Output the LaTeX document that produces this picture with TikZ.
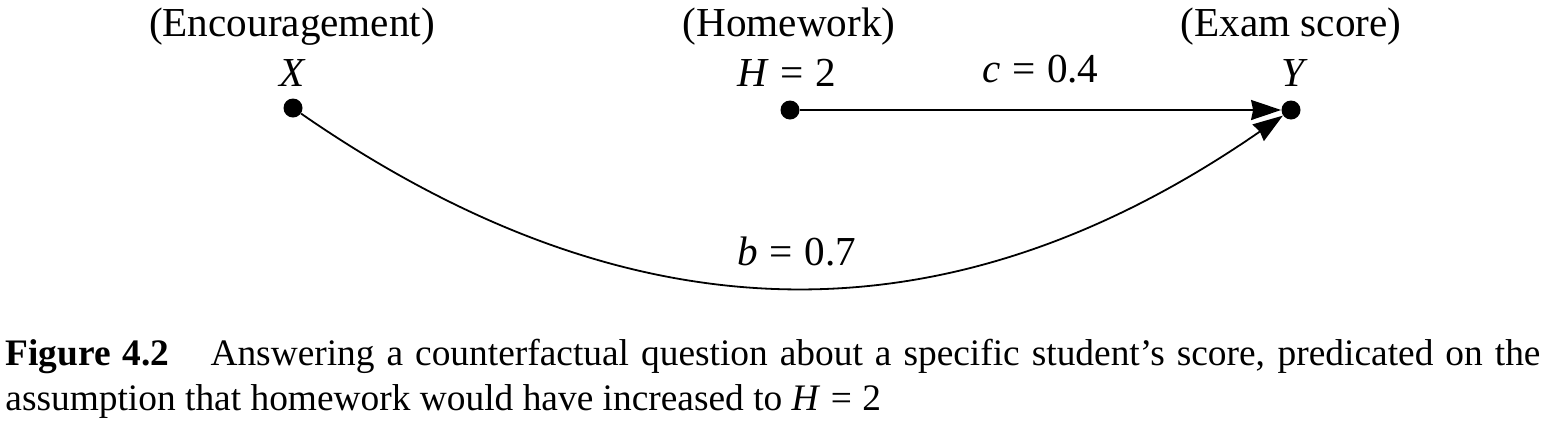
\documentclass[tikz,border=0pt]{standalone}
\usepackage{fontspec}
\setmainfont{Liberation Serif}
\usetikzlibrary{arrows.meta}
\tikzset{
  dot/.style={circle,fill=black,inner sep=0pt,minimum size=9.5pt},
  lbl/.style={font=\fontsize{20.6}{24}\selectfont,inner sep=0pt},
  edge/.style={line width=0.9pt,-{Stealth[length=15pt,width=10pt,inset=1pt]}}
}
\newcommand{\eqsp}{\hspace{0.28em}=\hspace{0.28em}}
\begin{document}
\begin{tikzpicture}[x=0.5pt,y=-0.5pt]
\useasboundingbox (0,0) rectangle (1550,424);
\node[dot] (x) at (293,108) {};
\node[dot] (h) at (790,110) {};
\node[dot] (y) at (1291,110) {};
\node[lbl,anchor=base] (xl) at (293,86) {\textit{X}};
\node[lbl,anchor=base] (hl) at (787,86) {\textit{H}\eqsp 2};
\node[lbl,anchor=base] (yl) at (1295,86) {\textit{Y}};
\node[lbl,anchor=base] (xt) at (292,36) {(Encouragement)};
\node[lbl,anchor=base] (ht) at (789,36) {(Homework)};
\node[lbl,anchor=base] (yt) at (1291,36) {(Exam score)};
\draw[edge] (h) -- node[lbl,above=13pt] (cl) {\textit{c}\eqsp 0.4} (y);
\draw[edge] (x) .. controls +(341,236) and +(-341,236) .. (y);
\node[lbl,anchor=base] (bl) at (797,265) {\textit{b}\eqsp 0.7};
\node[anchor=north west,inner sep=0pt,text width=767.5pt,align=justify,
  font=\fontsize{18.7}{22.5}\selectfont] (cap) at (5,339)
  {\textbf{Figure 4.2}\hspace{1.1em}Answering a counterfactual question about a specific student’s score, predicated on the\linebreak assumption that homework would have increased to \textit{H}\eqsp 2};
\end{tikzpicture}
\end{document}
